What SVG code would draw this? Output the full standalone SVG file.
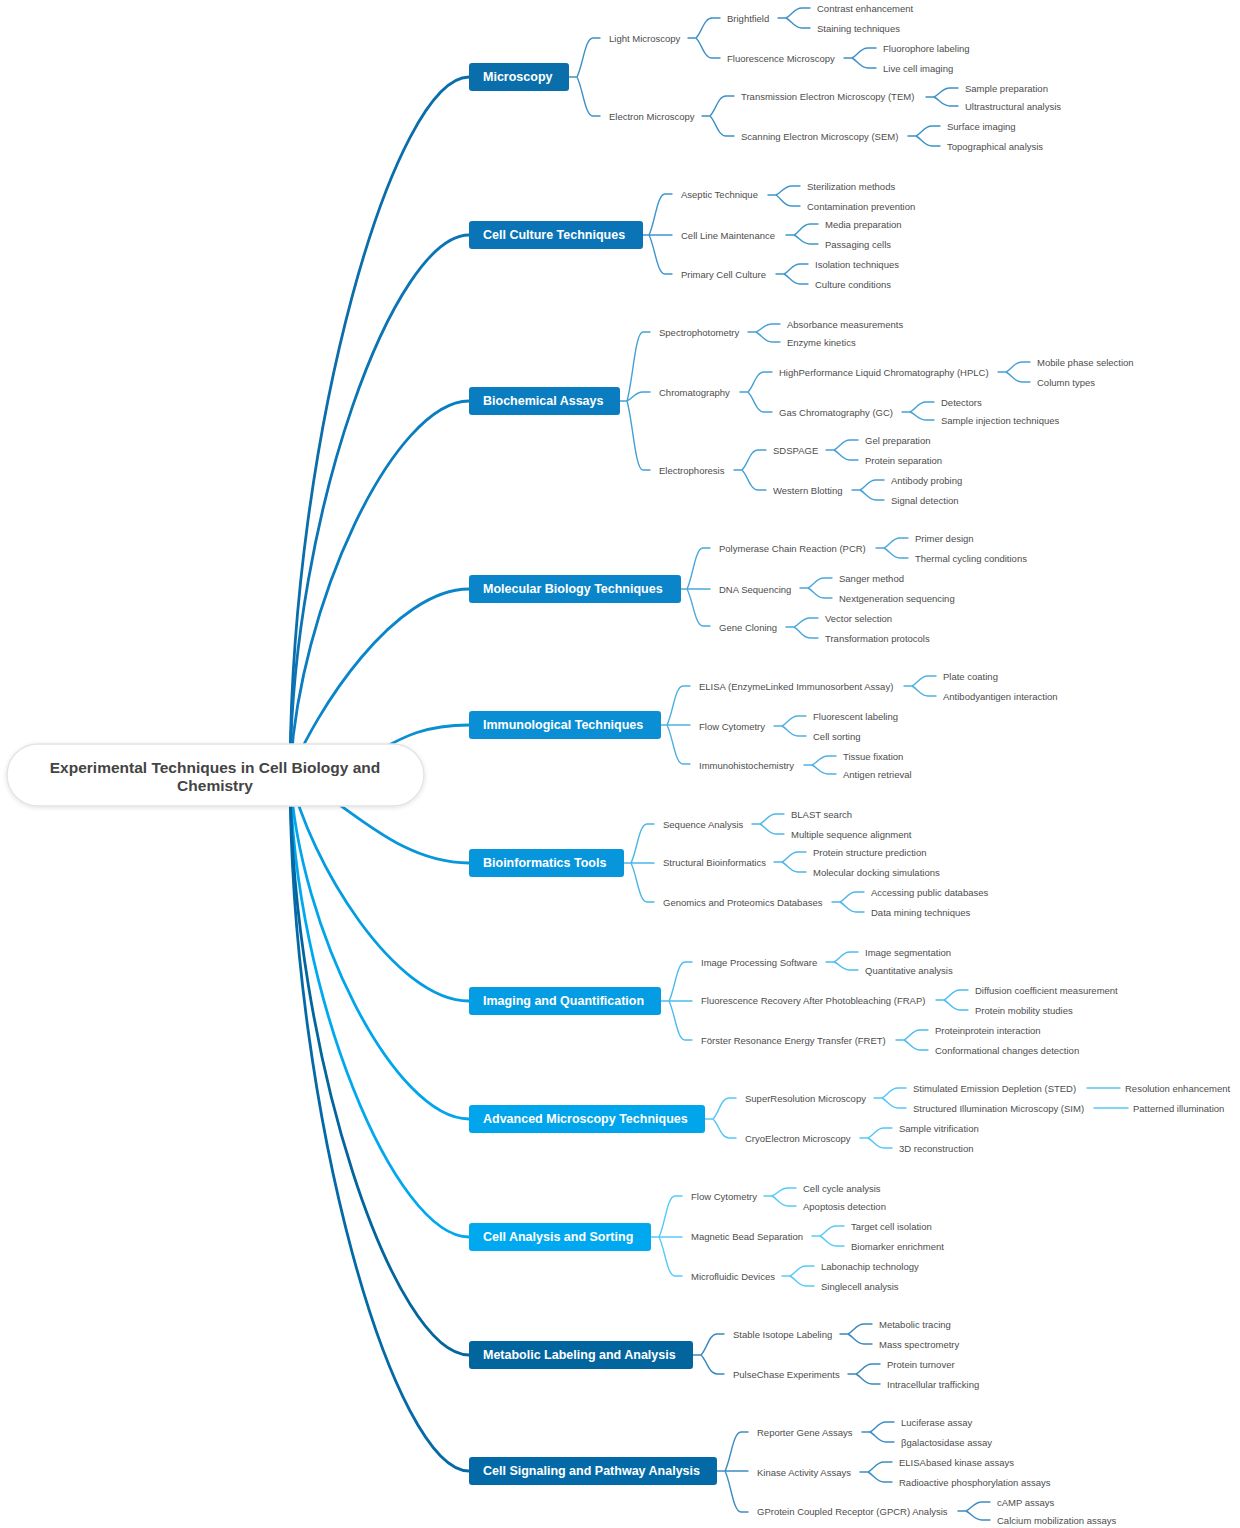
<svg xmlns="http://www.w3.org/2000/svg" width="1240" height="1528" viewBox="0 0 1240 1528">
<style>
.t{font-family:"Liberation Sans",Arial,sans-serif;font-size:9.5px;fill:#4d4d4d;dominant-baseline:central}
.bt{font-family:"Liberation Sans",Arial,sans-serif;font-size:12.5px;font-weight:bold;fill:#fff;dominant-baseline:central}
.rt{font-family:"Liberation Sans",Arial,sans-serif;font-size:15.5px;font-weight:bold;fill:#444;text-anchor:middle;dominant-baseline:central}
.r{fill:none;stroke-width:2.8;stroke-linecap:round}
.c{fill:none;stroke-width:1.4;stroke-linecap:round}
.k1{stroke:#0a6eaa}.k2{stroke:#0a74b6}.k3{stroke:#0a7cc0}.k4{stroke:#0a85ca}.k5{stroke:#0a8ed4}.k6{stroke:#0795dc}.k7{stroke:#049ce2}.k8{stroke:#00a5ec}.k9{stroke:#00a9ef}.k10{stroke:#02659e}.k11{stroke:#046aa7}
.l1{stroke:#3e90c4}.l2{stroke:#3d95cc}.l3{stroke:#45a0d6}.l4{stroke:#4aa8dc}.l5{stroke:#4fb0e2}.l6{stroke:#4cb6e8}.l7{stroke:#4bbcee}.l8{stroke:#55c6f6}.l9{stroke:#55caf8}.l10{stroke:#3a88bb}.l11{stroke:#3d8cc0}
</style>
<defs>
<filter id="sh" x="-10%" y="-30%" width="120%" height="160%">
<feDropShadow dx="0" dy="1" stdDeviation="2" flood-color="#000" flood-opacity="0.12"/>
</filter>
</defs>
<rect width="1240" height="1528" fill="#fff"/>
<g id="connectors">
<path class="r k1" d="M290 775 C291 430 395 77 469 77"/>
<path class="r k2" d="M290 775 C292 512 395 235 469 235"/>
<path class="r k3" d="M290 775 C298 604 395 401 469 401"/>
<path class="r k4" d="M290 775 C316 709 395 589 469 589"/>
<path class="r k5" d="M290 775 C380 775 380 725 469 725"/>
<path class="r k6" d="M290 775 C340 794 392 863 469 863"/>
<path class="r k7" d="M290 775 C310 863 395 1001 469 1001"/>
<path class="r k8" d="M290 775 C299 930 395 1119 469 1119"/>
<path class="r k9" d="M290 775 C294 995 395 1237 469 1237"/>
<path class="r k10" d="M290 775 C292 1059 395 1355 469 1355"/>
<path class="r k11" d="M290 775 C291 1120 395 1471 469 1471"/>

<path class="c l1" d="M569 77 L577 77 M577 77 C583 65 585 38 593 38 L600 38 M577 77 C583 89 585 116 593 116 L600 116
M688 38 L696 38 M696 38 C702 32 704 18 712 18 L720 18 M696 38 C702 44 704 58 712 58 L720 58
M778 18 L786 18 M786 18 C792 15 794 8 802 8 L810 8 M786 18 C792 21 794 28 802 28 L810 28
M844 58 L852 58 M852 58 C858 55 860 48 868 48 L876 48 M852 58 C858 61 860 68 868 68 L876 68
M702 116 L710 116 M710 116 C716 110 718 96 726 96 L734 96 M710 116 C716 122 718 136 726 136 L734 136
M926 97 L934 97 M934 97 C940 94 942 88 950 88 L958 88 M934 97 C940 100 942 106 950 106 L958 106
M908 136 L916 136 M916 136 C922 133 924 126 932 126 L940 126 M916 136 C922 139 924 146 932 146 L940 146"/>

<path class="c l2" d="M643 235 L672 235 M649 235 C655 223 657 194 665 194 L672 194 M649 235 C655 247 657 274 665 274 L672 274
M768 195 L776 195 M776 195 C782 192 784 186 792 186 L800 186 M776 195 C782 199 784 206 792 206 L800 206
M786 235 L794 235 M794 235 C800 232 802 224 810 224 L818 224 M794 235 C800 238 802 244 810 244 L818 244
M776 274 L784 274 M784 274 C790 271 792 264 800 264 L808 264 M784 274 C790 277 792 284 800 284 L808 284"/>

<path class="c l3" d="M620 401 L627 401 M627 401 C633 380 635 332 643 332 L650 332 M627 401 C633 398 635 392 643 392 L650 392 M627 401 C633 422 635 470 643 470 L650 470
M748 332 L756 332 M756 332 C762 330 764 324 772 324 L780 324 M756 332 C762 335 764 342 772 342 L780 342
M740 392 L748 392 M748 392 C754 386 756 372 764 372 L772 372 M748 392 C754 398 756 412 764 412 L772 412
M998 372 L1006 372 M1006 372 C1012 369 1014 362 1022 362 L1030 362 M1006 372 C1012 375 1014 382 1022 382 L1030 382
M902 412 L910 412 M910 412 C916 409 918 402 926 402 L934 402 M910 412 C916 414 918 420 926 420 L934 420
M734 470 L742 470 M742 470 C748 464 750 450 758 450 L766 450 M742 470 C748 476 750 490 758 490 L766 490
M826 450 L834 450 M834 450 C840 447 842 440 850 440 L858 440 M834 450 C840 453 842 460 850 460 L858 460
M852 490 L860 490 M860 490 C866 487 868 480 876 480 L884 480 M860 490 C866 493 868 500 876 500 L884 500"/>

<path class="c l4" d="M681 589 L710 589 M687 589 C693 577 695 548 703 548 L710 548 M687 589 C693 600 695 626 703 626 L710 626
M876 548 L884 548 M884 548 C890 545 892 538 900 538 L908 538 M884 548 C890 551 892 558 900 558 L908 558
M800 588 L808 588 M808 588 C814 585 816 578 824 578 L832 578 M808 588 C814 591 816 598 824 598 L832 598
M786 627 L794 627 M794 627 C800 624 802 618 810 618 L818 618 M794 627 C800 630 802 638 810 638 L818 638"/>

<path class="c l5" d="M661 725 L690 725 M667 725 C673 713 675 686 683 686 L690 686 M667 725 C673 737 675 764 683 764 L690 764
M904 686 L912 686 M912 686 C918 683 920 676 928 676 L936 676 M912 686 C918 689 920 696 928 696 L936 696
M774 726 L782 726 M782 726 C788 723 790 716 798 716 L806 716 M782 726 C788 729 790 736 798 736 L806 736
M804 765 L812 765 M812 765 C818 762 820 756 828 756 L836 756 M812 765 C818 768 820 774 828 774 L836 774"/>

<path class="c l6" d="M624 863 L654 863 M631 863 C637 851 639 824 647 824 L654 824 M631 863 C637 875 639 902 647 902 L654 902
M752 824 L760 824 M760 824 C766 821 768 814 776 814 L784 814 M760 824 C766 827 768 834 776 834 L784 834
M774 862 L782 862 M782 862 C788 859 790 852 798 852 L806 852 M782 862 C788 865 790 872 798 872 L806 872
M832 902 L840 902 M840 902 C846 899 848 892 856 892 L864 892 M840 902 C846 905 848 912 856 912 L864 912"/>

<path class="c l7" d="M661 1001 L692 1001 M669 1001 C675 989 677 962 685 962 L692 962 M669 1001 C675 1013 677 1040 685 1040 L692 1040
M826 962 L834 962 M834 962 C840 959 842 952 850 952 L858 952 M834 962 C840 964 842 970 850 970 L858 970
M936 1000 L944 1000 M944 1000 C950 997 952 990 960 990 L968 990 M944 1000 C950 1003 952 1010 960 1010 L968 1010
M896 1040 L904 1040 M904 1040 C910 1037 912 1030 920 1030 L928 1030 M904 1040 C910 1043 912 1050 920 1050 L928 1050"/>

<path class="c l8" d="M705 1119 L713 1119 M713 1119 C719 1113 721 1098 729 1098 L736 1098 M713 1119 C719 1125 721 1138 729 1138 L736 1138
M874 1098 L882 1098 M882 1098 C888 1095 890 1088 898 1088 L906 1088 M882 1098 C888 1101 890 1108 898 1108 L906 1108
M1087 1088 L1120 1088
M1094 1108 L1128 1108
M860 1138 L868 1138 M868 1138 C874 1135 876 1128 884 1128 L892 1128 M868 1138 C874 1141 876 1148 884 1148 L892 1148"/>

<path class="c l9" d="M651 1237 L682 1237 M659 1237 C665 1225 667 1196 675 1196 L682 1196 M659 1237 C665 1249 667 1276 675 1276 L682 1276
M764 1196 L772 1196 M772 1196 C778 1194 780 1188 788 1188 L796 1188 M772 1196 C778 1199 780 1206 788 1206 L796 1206
M812 1236 L820 1236 M820 1236 C826 1233 828 1226 836 1226 L844 1226 M820 1236 C826 1239 828 1246 836 1246 L844 1246
M782 1276 L790 1276 M790 1276 C796 1273 798 1266 806 1266 L814 1266 M790 1276 C796 1279 798 1286 806 1286 L814 1286"/>

<path class="c l10" d="M693 1355 L701 1355 M701 1355 C707 1349 709 1334 717 1334 L724 1334 M701 1355 C707 1361 709 1374 717 1374 L724 1374
M840 1334 L848 1334 M848 1334 C854 1331 856 1324 864 1324 L872 1324 M848 1334 C854 1337 856 1344 864 1344 L872 1344
M848 1374 L856 1374 M856 1374 C862 1371 864 1364 872 1364 L880 1364 M856 1374 C862 1377 864 1384 872 1384 L880 1384"/>

<path class="c l11" d="M717 1471 L748 1471 M725 1471 C731 1459 733 1432 741 1432 L748 1432 M725 1471 C731 1483 733 1512 741 1512 L748 1512
M862 1432 L870 1432 M870 1432 C876 1429 878 1422 886 1422 L894 1422 M870 1432 C876 1435 878 1442 886 1442 L894 1442
M860 1472 L868 1472 M868 1472 C874 1469 876 1462 884 1462 L892 1462 M868 1472 C874 1475 876 1482 884 1482 L892 1482
M958 1511 L966 1511 M966 1511 C972 1508 974 1502 982 1502 L990 1502 M966 1511 C972 1514 974 1520 982 1520 L990 1520"/>
</g>

<g id="root">
<rect x="7" y="744" width="417" height="62" rx="31" fill="#fff" stroke="#e4e4e4" stroke-width="1.5" filter="url(#sh)"/>
<text class="rt" x="215" y="767">Experimental Techniques in Cell Biology and</text>
<text class="rt" x="215" y="785">Chemistry</text>
</g>

<g id="microscopy">
<rect x="469" y="63" width="100" height="28" rx="3" fill="#0a6eaa"/>
<text class="bt" x="483" y="77">Microscopy</text>
<text class="t" x="609" y="38">Light Microscopy</text>
<text class="t" x="727" y="18">Brightfield</text>
<text class="t" x="817" y="8">Contrast enhancement</text>
<text class="t" x="817" y="28">Staining techniques</text>
<text class="t" x="727" y="58">Fluorescence Microscopy</text>
<text class="t" x="883" y="48">Fluorophore labeling</text>
<text class="t" x="883" y="68">Live cell imaging</text>
<text class="t" x="609" y="116">Electron Microscopy</text>
<text class="t" x="741" y="96">Transmission Electron Microscopy (TEM)</text>
<text class="t" x="965" y="88">Sample preparation</text>
<text class="t" x="965" y="106">Ultrastructural analysis</text>
<text class="t" x="741" y="136">Scanning Electron Microscopy (SEM)</text>
<text class="t" x="947" y="126">Surface imaging</text>
<text class="t" x="947" y="146">Topographical analysis</text>
</g>

<g id="cell-culture">
<rect x="469" y="221" width="174" height="28" rx="3" fill="#0a74b6"/>
<text class="bt" x="483" y="235">Cell Culture Techniques</text>
<text class="t" x="681" y="194">Aseptic Technique</text>
<text class="t" x="807" y="186">Sterilization methods</text>
<text class="t" x="807" y="206">Contamination prevention</text>
<text class="t" x="681" y="235">Cell Line Maintenance</text>
<text class="t" x="825" y="224">Media preparation</text>
<text class="t" x="825" y="244">Passaging cells</text>
<text class="t" x="681" y="274">Primary Cell Culture</text>
<text class="t" x="815" y="264">Isolation techniques</text>
<text class="t" x="815" y="284">Culture conditions</text>
</g>

<g id="biochemical">
<rect x="469" y="387" width="151" height="28" rx="3" fill="#0a7cc0"/>
<text class="bt" x="483" y="401">Biochemical Assays</text>
<text class="t" x="659" y="332">Spectrophotometry</text>
<text class="t" x="787" y="324">Absorbance measurements</text>
<text class="t" x="787" y="342">Enzyme kinetics</text>
<text class="t" x="659" y="392">Chromatography</text>
<text class="t" x="779" y="372">HighPerformance Liquid Chromatography (HPLC)</text>
<text class="t" x="1037" y="362">Mobile phase selection</text>
<text class="t" x="1037" y="382">Column types</text>
<text class="t" x="779" y="412">Gas Chromatography (GC)</text>
<text class="t" x="941" y="402">Detectors</text>
<text class="t" x="941" y="420">Sample injection techniques</text>
<text class="t" x="659" y="470">Electrophoresis</text>
<text class="t" x="773" y="450">SDSPAGE</text>
<text class="t" x="865" y="440">Gel preparation</text>
<text class="t" x="865" y="460">Protein separation</text>
<text class="t" x="773" y="490">Western Blotting</text>
<text class="t" x="891" y="480">Antibody probing</text>
<text class="t" x="891" y="500">Signal detection</text>
</g>

<g id="molecular">
<rect x="469" y="575" width="212" height="28" rx="3" fill="#0a85ca"/>
<text class="bt" x="483" y="589">Molecular Biology Techniques</text>
<text class="t" x="719" y="548">Polymerase Chain Reaction (PCR)</text>
<text class="t" x="915" y="538">Primer design</text>
<text class="t" x="915" y="558">Thermal cycling conditions</text>
<text class="t" x="719" y="589">DNA Sequencing</text>
<text class="t" x="839" y="578">Sanger method</text>
<text class="t" x="839" y="598">Nextgeneration sequencing</text>
<text class="t" x="719" y="627">Gene Cloning</text>
<text class="t" x="825" y="618">Vector selection</text>
<text class="t" x="825" y="638">Transformation protocols</text>
</g>

<g id="immunological">
<rect x="469" y="711" width="192" height="28" rx="3" fill="#0a8ed4"/>
<text class="bt" x="483" y="725">Immunological Techniques</text>
<text class="t" x="699" y="686">ELISA (EnzymeLinked Immunosorbent Assay)</text>
<text class="t" x="943" y="676">Plate coating</text>
<text class="t" x="943" y="696">Antibodyantigen interaction</text>
<text class="t" x="699" y="726">Flow Cytometry</text>
<text class="t" x="813" y="716">Fluorescent labeling</text>
<text class="t" x="813" y="736">Cell sorting</text>
<text class="t" x="699" y="765">Immunohistochemistry</text>
<text class="t" x="843" y="756">Tissue fixation</text>
<text class="t" x="843" y="774">Antigen retrieval</text>
</g>

<g id="bioinformatics">
<rect x="469" y="849" width="155" height="28" rx="3" fill="#0795dc"/>
<text class="bt" x="483" y="863">Bioinformatics Tools</text>
<text class="t" x="663" y="824">Sequence Analysis</text>
<text class="t" x="791" y="814">BLAST search</text>
<text class="t" x="791" y="834">Multiple sequence alignment</text>
<text class="t" x="663" y="862">Structural Bioinformatics</text>
<text class="t" x="813" y="852">Protein structure prediction</text>
<text class="t" x="813" y="872">Molecular docking simulations</text>
<text class="t" x="663" y="902">Genomics and Proteomics Databases</text>
<text class="t" x="871" y="892">Accessing public databases</text>
<text class="t" x="871" y="912">Data mining techniques</text>
</g>

<g id="imaging">
<rect x="469" y="987" width="192" height="28" rx="3" fill="#049ce2"/>
<text class="bt" x="483" y="1001">Imaging and Quantification</text>
<text class="t" x="701" y="962">Image Processing Software</text>
<text class="t" x="865" y="952">Image segmentation</text>
<text class="t" x="865" y="970">Quantitative analysis</text>
<text class="t" x="701" y="1000">Fluorescence Recovery After Photobleaching (FRAP)</text>
<text class="t" x="975" y="990">Diffusion coefficient measurement</text>
<text class="t" x="975" y="1010">Protein mobility studies</text>
<text class="t" x="701" y="1040">Förster Resonance Energy Transfer (FRET)</text>
<text class="t" x="935" y="1030">Proteinprotein interaction</text>
<text class="t" x="935" y="1050">Conformational changes detection</text>
</g>

<g id="advanced">
<rect x="469" y="1105" width="236" height="28" rx="3" fill="#00a5ec"/>
<text class="bt" x="483" y="1119">Advanced Microscopy Techniques</text>
<text class="t" x="745" y="1098">SuperResolution Microscopy</text>
<text class="t" x="913" y="1088">Stimulated Emission Depletion (STED)</text>
<text class="t" x="1125" y="1088">Resolution enhancement</text>
<text class="t" x="913" y="1108">Structured Illumination Microscopy (SIM)</text>
<text class="t" x="1133" y="1108">Patterned illumination</text>
<text class="t" x="745" y="1138">CryoElectron Microscopy</text>
<text class="t" x="899" y="1128">Sample vitrification</text>
<text class="t" x="899" y="1148">3D reconstruction</text>
</g>

<g id="cell-analysis">
<rect x="469" y="1223" width="182" height="28" rx="3" fill="#00a9ef"/>
<text class="bt" x="483" y="1237">Cell Analysis and Sorting</text>
<text class="t" x="691" y="1196">Flow Cytometry</text>
<text class="t" x="803" y="1188">Cell cycle analysis</text>
<text class="t" x="803" y="1206">Apoptosis detection</text>
<text class="t" x="691" y="1236">Magnetic Bead Separation</text>
<text class="t" x="851" y="1226">Target cell isolation</text>
<text class="t" x="851" y="1246">Biomarker enrichment</text>
<text class="t" x="691" y="1276">Microfluidic Devices</text>
<text class="t" x="821" y="1266">Labonachip technology</text>
<text class="t" x="821" y="1286">Singlecell analysis</text>
</g>

<g id="metabolic">
<rect x="469" y="1341" width="224" height="28" rx="3" fill="#02659e"/>
<text class="bt" x="483" y="1355">Metabolic Labeling and Analysis</text>
<text class="t" x="733" y="1334">Stable Isotope Labeling</text>
<text class="t" x="879" y="1324">Metabolic tracing</text>
<text class="t" x="879" y="1344">Mass spectrometry</text>
<text class="t" x="733" y="1374">PulseChase Experiments</text>
<text class="t" x="887" y="1364">Protein turnover</text>
<text class="t" x="887" y="1384">Intracellular trafficking</text>
</g>

<g id="signaling">
<rect x="469" y="1457" width="248" height="28" rx="3" fill="#046aa7"/>
<text class="bt" x="483" y="1471">Cell Signaling and Pathway Analysis</text>
<text class="t" x="757" y="1432">Reporter Gene Assays</text>
<text class="t" x="901" y="1422">Luciferase assay</text>
<text class="t" x="901" y="1442">βgalactosidase assay</text>
<text class="t" x="757" y="1472">Kinase Activity Assays</text>
<text class="t" x="899" y="1462">ELISAbased kinase assays</text>
<text class="t" x="899" y="1482">Radioactive phosphorylation assays</text>
<text class="t" x="757" y="1511">GProtein Coupled Receptor (GPCR) Analysis</text>
<text class="t" x="997" y="1502">cAMP assays</text>
<text class="t" x="997" y="1520">Calcium mobilization assays</text>
</g>
</svg>
